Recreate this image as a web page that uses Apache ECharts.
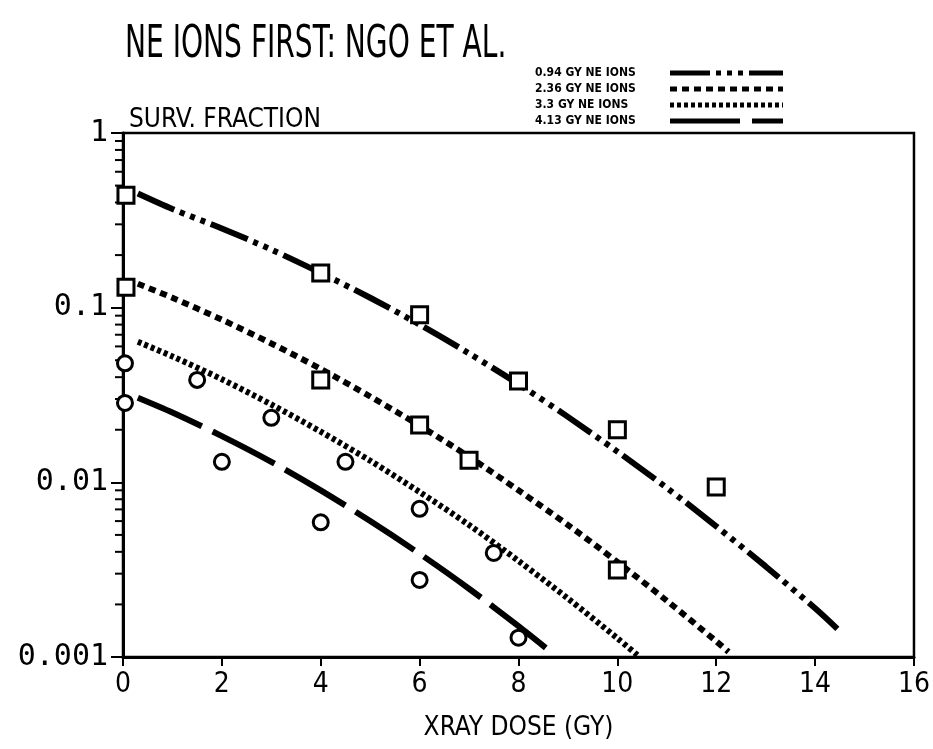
<!DOCTYPE html>
<html>
<head>
<meta charset="utf-8">
<script src="https://cdn.jsdelivr.net/npm/echarts@6/dist/echarts.min.js"></script>
<style>
  html, body { margin: 0; padding: 0; background: #fff; }
  #chart { width: 933px; height: 749px; }
</style>
</head>
<body>
<div id="chart"></div>
<script>
// fitted curves
const curve094X = [0.3, 1, 2, 3, 4, 5, 6, 7, 8, 9, 10, 11, 12, 13, 14, 14.45]
const curve094Y = [0.45, 0.367, 0.284, 0.215, 0.158, 0.114, 0.080, 0.0547, 0.0365, 0.0237, 0.015, 0.0093, 0.0056, 0.0033, 0.0019, 0.00145]
const curve236X = [0.3, 1, 2, 3, 4, 5, 6, 7, 8, 9, 10, 11, 12, 12.25]
const curve236Y = [0.137, 0.114, 0.0853, 0.0624, 0.0446, 0.031, 0.0211, 0.014, 0.009, 0.0057, 0.0035, 0.0021, 0.00123, 0.00107]
const curve33X = [0.3, 1, 2, 3, 4, 5, 6, 7, 8, 9, 10, 10.45]
const curve33Y = [0.0638, 0.0526, 0.0389, 0.0279, 0.0195, 0.0133, 0.0088, 0.0057, 0.00355, 0.00216, 0.00128, 0.001]
const curve413X = [0.3, 1, 2, 3, 4, 5, 6, 7, 8, 8.65]
const curve413Y = [0.0305, 0.0251, 0.0184, 0.0131, 0.009, 0.006, 0.0039, 0.00246, 0.0015, 0.00107]

// measured points
const sq094X = [0.06, 4, 6, 8, 10, 12]
const sq094Y = [0.44, 0.158, 0.091, 0.038, 0.020, 0.0094]
const sq236X = [0.06, 4, 6, 7, 10]
const sq236Y = [0.131, 0.0386, 0.0213, 0.0134, 0.00315]
const ci33X = [0.04, 1.5, 3, 4.5, 6, 7.5]
const ci33Y = [0.048, 0.0386, 0.0234, 0.0131, 0.00705, 0.00394]
const ci413X = [0.04, 2, 4, 6, 8]
const ci413Y = [0.0285, 0.0131, 0.0059, 0.00276, 0.00129]

const seriesNames = ['0.94 GY NE IONS', '2.36 GY NE IONS', '3.3 GY NE IONS', '4.13 GY NE IONS']
const yTickValues = [0.001, 0.01, 0.1, 1]
const yTickLabels = ['0.001', '0.01', '0.1', '1']
const yMinorTicks = [0.002, 0.003, 0.004, 0.005, 0.006, 0.007, 0.008, 0.009,
  0.02, 0.03, 0.04, 0.05, 0.06, 0.07, 0.08, 0.09,
  0.2, 0.3, 0.4, 0.5, 0.6, 0.7, 0.8, 0.9]

const zip = (xs, ys) => xs.map((x, i) => [x, ys[i]])
const narrow = "'Liberation Sans Narrow', 'DejaVu Sans Condensed', sans-serif"

const lineSeries = (name, xs, ys, dash) => ({
  name: name,
  type: 'line',
  data: zip(xs, ys),
  smooth: 0.3,
  symbol: 'none',
  lineStyle: { color: '#000', width: 6, type: dash, cap: 'butt' },
  itemStyle: { color: '#000' },
  z: 3
})

const pointSeries = (name, xs, ys, symbol, size) => ({
  name: name,
  type: 'scatter',
  data: zip(xs, ys),
  symbol: symbol,
  symbolSize: size,
  itemStyle: { color: '#fff', borderColor: '#000', borderWidth: 3, opacity: 1 },
  z: 4
})

const chart = echarts.init(document.getElementById('chart'))

chart.setOption({
  animation: false,
  backgroundColor: '#fff',
  title: {
    text: 'SURV. FRACTION',
    left: 124, top: 102,
    textStyle: { fontFamily: narrow, fontSize: 26, fontWeight: 'normal', color: '#000' }
  },
  graphic: [{
    type: 'text',
    left: 125, top: 24,
    scaleX: 0.71,
    style: {
      text: 'NE IONS FIRST: NGO ET AL.',
      fontFamily: narrow, fontSize: 44, fill: '#000'
    }
  }],
  legend: {
    data: seriesNames,
    orient: 'vertical',
    align: 'right',
    left: 530, top: 62,
    itemGap: 4,
    itemWidth: 113,
    itemHeight: 12,
    itemStyle: { color: 'rgba(0,0,0,0)', borderWidth: 0 },
    lineStyle: { width: 5 },
    formatter: '{a|{name}}',
    textStyle: {
      color: '#000',
      rich: {
        a: {
          fontFamily: "'DejaVu Sans Condensed', sans-serif",
          fontSize: 12, fontWeight: 'bold', color: '#000',
          width: 130, align: 'left'
        }
      }
    }
  },
  grid: {
    left: 123, right: 15, top: 133, bottom: 92,
    show: true, borderColor: '#000', borderWidth: 2.5
  },
  xAxis: {
    type: 'value',
    min: 0, max: 16, interval: 2,
    name: 'XRAY DOSE (GY)',
    nameLocation: 'middle',
    nameGap: 58,
    nameTextStyle: { fontFamily: narrow, fontSize: 26, color: '#000' },
    axisLine: { lineStyle: { color: '#000', width: 3 } },
    axisTick: { length: 9, lineStyle: { color: '#000', width: 2 } },
    axisLabel: { fontFamily: narrow, fontSize: 28, color: '#000', margin: 14 },
    splitLine: { show: false }
  },
  yAxis: {
    type: 'log',
    logBase: 10,
    min: 0.001, max: 1,
    axisLine: { lineStyle: { color: '#000', width: 3 } },
    axisTick: { length: 12, lineStyle: { color: '#000', width: 2 } },
    axisLabel: {
      fontFamily: "'DejaVu Sans Mono', monospace",
      fontSize: 30, color: '#000', margin: 15,
      formatter: function (v) {
        let best = 0
        yTickValues.forEach((t, i) => {
          if (Math.abs(Math.log10(t) - Math.log10(v)) < Math.abs(Math.log10(yTickValues[best]) - Math.log10(v))) best = i
        })
        return yTickLabels[best]
      }
    },
    splitLine: { show: false }
  },
  series: [
    lineSeries(seriesNames[0], curve094X, curve094Y, [40, 6, 5, 6, 5, 6, 5, 6]),
    lineSeries(seriesNames[1], curve236X, curve236Y, [7, 5]),
    lineSeries(seriesNames[2], curve33X, curve33Y, [4, 3]),
    lineSeries(seriesNames[3], curve413X, curve413Y, [70, 12]),
    pointSeries('sq094', sq094X, sq094Y, 'rect', 16),
    pointSeries('sq236', sq236X, sq236Y, 'rect', 16),
    pointSeries('ci33', ci33X, ci33Y, 'circle', 15),
    pointSeries('ci413', ci413X, ci413Y, 'circle', 15),
    {
      // log-spaced minor ticks on the left axis
      name: 'minorTicks',
      type: 'custom',
      data: yMinorTicks.map(v => [0, v]),
      clip: false,
      silent: true,
      renderItem: function (params, api) {
        const p = api.coord([0, api.value(1)])
        return {
          type: 'line',
          shape: { x1: p[0] - 8, y1: p[1], x2: p[0], y2: p[1] },
          style: { stroke: '#000', lineWidth: 2 }
        }
      }
    }
  ]
})
</script>
</body>
</html>
